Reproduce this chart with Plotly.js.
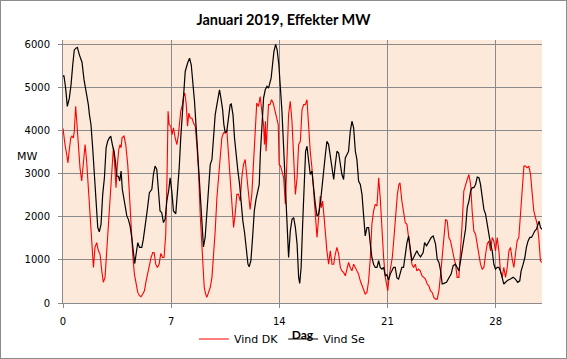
<!DOCTYPE html>
<html>
<head>
<meta charset="utf-8">
<script src="https://cdn.plot.ly/plotly-3.0.1.min.js"></script>
<style>
html,body{margin:0;padding:0;background:#fff;}
#wrap{position:relative;width:567px;height:359px;}
#chart{width:567px;height:359px;}
#frame{position:absolute;left:0;top:0;width:567px;height:359px;box-sizing:border-box;border:1px solid #8c8c8c;pointer-events:none;}
</style>
</head>
<body>
<div id="wrap"><div id="chart"></div><div id="frame"></div></div>
<script>
// Day of month (x) and MW (y)
const dkDays = [0.0,0.06,0.13,0.24,0.32,0.41,0.5,0.58,0.67,0.73,0.82,0.89,0.95,1.04,1.1,1.21,1.32,1.43,1.53,1.64,1.75,1.86,1.97,2.07,2.18,2.29,2.4,2.51,2.61,2.72,2.83,2.94,3.05,3.15,3.26,3.33,3.43,3.52,3.61,3.69,3.76,3.82,3.95,4.06,4.19,4.3,4.4,4.51,4.62,4.73,4.84,4.95,5.05,5.16,5.27,5.38,5.49,5.59,5.7,5.81,5.9,6.0,6.11,6.22,6.33,6.44,6.54,6.65,6.74,6.8,6.87,6.97,7.06,7.15,7.26,7.37,7.47,7.54,7.62,7.73,7.8,7.88,7.97,8.06,8.14,8.23,8.34,8.45,8.56,8.66,8.77,8.88,8.97,9.05,9.14,9.23,9.31,9.42,9.53,9.64,9.74,9.85,9.96,10.06,10.17,10.28,10.39,10.5,10.6,10.71,10.82,10.93,11.04,11.14,11.25,11.36,11.47,11.57,11.68,11.79,11.9,12.0,12.11,12.22,12.33,12.43,12.54,12.65,12.76,12.87,12.98,13.04,13.1,13.14,13.23,13.3,13.39,13.5,13.6,13.71,13.82,13.93,13.99,14.08,14.17,14.28,14.39,14.5,14.6,14.71,14.82,14.93,15.04,15.15,15.25,15.36,15.47,15.58,15.68,15.79,15.9,16.0,16.11,16.22,16.33,16.44,16.54,16.65,16.72,16.8,16.9,16.99,17.08,17.19,17.3,17.41,17.52,17.62,17.73,17.84,17.95,18.05,18.16,18.27,18.38,18.48,18.59,18.7,18.81,18.92,19.02,19.13,19.24,19.35,19.45,19.56,19.67,19.78,19.89,19.99,20.1,20.21,20.32,20.43,20.53,20.64,20.75,20.86,20.96,21.02,21.1,21.2,21.31,21.42,21.53,21.64,21.74,21.81,21.93,22.04,22.15,22.26,22.37,22.47,22.58,22.69,22.8,22.9,23.01,23.12,23.24,23.35,23.46,23.57,23.68,23.78,23.89,24.0,24.11,24.22,24.33,24.44,24.54,24.65,24.76,24.87,24.97,25.08,25.19,25.3,25.4,25.51,25.62,25.73,25.83,25.94,26.05,26.16,26.27,26.38,26.48,26.59,26.7,26.81,26.92,27.02,27.13,27.24,27.35,27.45,27.56,27.67,27.78,27.88,27.99,28.1,28.21,28.31,28.42,28.53,28.64,28.75,28.86,28.96,29.07,29.18,29.28,29.39,29.5,29.61,29.72,29.83,29.93,30.04,30.15,30.26,30.37,30.47,30.58,30.69,30.79,30.9,31.0];
const dkMW = [4050,3830,3675,3445,3250,3560,3830,3870,3830,3980,4560,4215,3830,3520,3135,2830,3365,3675,3290,2675,2055,1520,825,1290,1400,1210,1130,745,480,595,1210,1825,2520,3135,3600,3290,2675,3210,3560,3675,3600,3830,3870,3675,3210,2520,1825,1130,670,400,245,170,145,210,285,515,745,865,1055,1170,1170,900,825,900,1150,1055,1055,1595,3060,4445,4140,4100,3905,4060,3830,3675,3905,4100,4445,4600,4790,4870,4640,4100,4405,4290,4290,4175,4100,3675,3060,2055,1365,745,360,210,130,245,360,595,1055,1670,2440,2905,3290,3830,3945,3945,4020,3445,2830,2135,1750,2055,2520,2520,2365,2905,3210,3330,2980,2520,2170,2520,3210,3905,4640,4560,4790,4445,4140,3675,4215,3520,4290,4600,4600,4715,4640,4485,4330,4140,3210,3175,3060,2905,2290,3445,4370,4680,4215,3365,2520,2905,3675,3750,4485,4600,4600,4715,4060,3520,3135,2675,2055,1520,2055,2480,2210,2365,1980,1520,1210,900,1210,900,900,1130,1290,1130,825,745,710,630,785,940,825,745,900,825,745,670,515,400,285,210,245,515,1055,1825,2135,2290,2250,2905,2440,1670,1055,595,325,285,595,825,1055,1520,2055,2520,2750,2790,2365,2135,1865,1825,1520,1130,900,825,900,745,785,745,630,595,555,440,400,285,245,130,90,90,285,670,1055,1365,1940,1900,1520,1440,1210,1055,900,595,595,1130,1825,2595,2750,2865,2980,2750,2135,1670,1595,1365,1210,900,785,825,1130,1365,1440,1210,1520,1440,1210,1520,1210,745,595,825,595,825,1210,1290,1015,825,1130,1440,1520,2135,2750,3175,3175,3135,3175,2980,2520,2135,1980,1825,1520,980,940];

const seDays = [0.0,0.06,0.17,0.28,0.41,0.52,0.63,0.73,0.84,0.93,1.06,1.23,1.36,1.49,1.64,1.71,1.81,1.92,2.03,2.14,2.25,2.35,2.46,2.57,2.68,2.79,2.89,3.0,3.09,3.2,3.3,3.39,3.48,3.59,3.67,3.76,3.84,3.97,4.13,4.23,4.34,4.45,4.56,4.64,4.73,4.84,4.95,5.1,5.2,5.33,5.46,5.59,5.75,5.85,5.96,6.07,6.18,6.28,6.39,6.5,6.61,6.72,6.85,6.93,7.04,7.15,7.3,7.41,7.52,7.62,7.75,7.91,8.06,8.19,8.3,8.4,8.51,8.62,8.77,8.88,8.99,9.09,9.2,9.31,9.42,9.53,9.64,9.74,9.85,9.96,10.06,10.13,10.22,10.33,10.41,10.5,10.6,10.71,10.82,10.89,11.0,11.1,11.21,11.32,11.43,11.53,11.64,11.75,11.86,11.97,12.05,12.16,12.27,12.38,12.49,12.59,12.7,12.77,12.87,12.98,13.09,13.2,13.3,13.41,13.47,13.56,13.65,13.76,13.86,13.97,14.06,14.17,14.28,14.39,14.5,14.6,14.71,14.82,14.93,15.04,15.15,15.25,15.32,15.41,15.51,15.62,15.7,15.79,15.9,16.0,16.11,16.22,16.33,16.44,16.54,16.65,16.76,16.87,16.98,17.08,17.19,17.3,17.41,17.52,17.62,17.73,17.84,17.95,18.05,18.16,18.27,18.38,18.48,18.59,18.7,18.81,18.92,19.02,19.13,19.24,19.35,19.45,19.56,19.67,19.78,19.89,19.99,20.1,20.21,20.32,20.43,20.53,20.64,20.75,20.86,20.96,21.07,21.18,21.29,21.39,21.5,21.61,21.72,21.83,21.93,22.04,22.15,22.26,22.37,22.47,22.58,22.69,22.8,22.9,23.01,23.14,23.31,23.4,23.53,23.68,23.83,23.96,24.11,24.22,24.33,24.44,24.54,24.65,24.82,24.97,25.12,25.25,25.4,25.51,25.62,25.73,25.83,25.94,26.05,26.16,26.27,26.38,26.48,26.59,26.7,26.81,26.92,27.02,27.13,27.24,27.35,27.45,27.56,27.67,27.78,27.88,27.99,28.1,28.21,28.31,28.42,28.53,28.64,28.79,28.96,29.13,29.28,29.43,29.56,29.65,29.78,29.89,29.99,30.1,30.21,30.32,30.43,30.53,30.64,30.73,30.81,30.9,31.0];
const seMW = [5250,5277,4985,4560,4750,5060,5520,5870,5910,5930,5755,5585,5180,4945,4600,4370,4140,3600,2905,2290,1750,1650,1825,2520,2905,3600,3750,3830,3870,3660,3520,3290,2940,2940,2830,3060,2635,2365,2020,1940,1790,1520,1130,915,1130,1400,1290,1290,1480,1900,2170,2560,2635,2980,3175,3100,2675,2135,2095,1865,1940,2365,2635,2905,2595,2135,2070,2520,3135,3830,4600,5370,5560,5680,5525,5140,4680,4060,3210,2520,1825,1300,1520,2135,2830,3210,3330,3905,4370,4600,4870,4945,4750,4485,4140,3945,3980,4330,4600,4615,4370,3830,3405,3060,2750,2290,1900,1635,1290,900,840,980,1520,2135,2405,2595,2750,3445,4215,4750,4945,5025,4985,5180,5215,5525,5830,6000,5870,5525,5060,4445,3600,2675,1825,1055,1670,1940,1980,1750,1365,595,455,825,1825,2905,3520,3635,3290,2980,3060,2595,2290,2020,2055,2290,2750,3060,3445,3750,3675,3365,3060,2865,3210,3520,3480,3250,2980,2865,3365,3445,3520,3980,4215,4060,3520,3330,2830,2750,2520,2055,1555,1750,1750,1365,1055,900,825,825,980,825,785,825,630,655,530,670,745,825,825,580,555,710,825,825,1130,1400,1555,1210,980,1055,1130,1210,1130,1070,1170,1400,1325,1440,1520,1555,1365,1015,940,745,440,455,480,580,670,865,900,825,745,980,1210,1480,1710,2210,2365,2595,2675,2675,2750,2920,2905,2750,2440,2170,2055,1825,1520,1365,1210,900,785,825,825,745,595,440,480,530,555,595,555,480,515,745,900,1055,1290,1440,1520,1520,1595,1670,1710,1790,1900,1750,1710];

const dayTicks = [0, 7, 14, 21, 28];
const mwTicks = [0, 1000, 2000, 3000, 4000, 5000, 6000];

const data = [
  {x: dkDays, y: dkMW, name: 'Vind DK', type: 'scatter', mode: 'lines',
   line: {color: '#ff0000', width: 1.1}},
  {x: seDays, y: seMW, name: 'Vind Se', type: 'scatter', mode: 'lines',
   line: {color: '#000000', width: 1.2}}
];

const layout = {
  width: 567, height: 359,
  margin: {l: 63, r: 25, t: 40, b: 56, pad: 0, autoexpand: false},
  paper_bgcolor: '#ffffff',
  plot_bgcolor: '#fce9da',
  showlegend: true,
  title: {text: 'Januari 2019, Effekter MW', x: 0.5, xref: 'container', xanchor: 'center',
          y: 1 - 20/359, yref: 'container', yanchor: 'middle',
          font: {family: 'Lato, "DejaVu Sans", sans-serif', size: 14.5, color: '#000', weight: 'bold'}},
  xaxis: {
    range: [0, 31], tickvals: dayTicks, ticktext: dayTicks.map(String),
    showgrid: true, gridcolor: '#8a8a8a', gridwidth: 1,
    showline: true, linecolor: '#8a8a8a', linewidth: 1,
    ticks: 'outside', ticklen: 4, tickcolor: '#8a8a8a',
    ticklabelstandoff: 5,
    zeroline: false, automargin: false,
    tickfont: {family: '"DejaVu Sans", Verdana, sans-serif', size: 10, color: '#000'},
    title: {text: '<b>Dag</b>', font: {family: 'Lato, sans-serif', size: 12, color: '#000'}, standoff: 4}
  },
  yaxis: {
    range: [0, 6100], tickvals: mwTicks,
    showgrid: true, gridcolor: '#8a8a8a', gridwidth: 1,
    showline: true, linecolor: '#8a8a8a', linewidth: 1,
    ticks: 'outside', ticklen: 4, tickcolor: '#8a8a8a',
    ticklabelstandoff: 6,
    zeroline: false, automargin: false,
    tickfont: {family: '"DejaVu Sans", Verdana, sans-serif', size: 10, color: '#000'}
  },
  legend: {
    orientation: 'h', x: 0.458, xanchor: 'center', y: -36/263, yanchor: 'middle',
    bgcolor: 'rgba(0,0,0,0)', font: {family: '"DejaVu Sans", Verdana, sans-serif', size: 11, color: '#000'},
    itemwidth: 30, traceorder: 'normal'
  },
  annotations: [
    {text: 'MW', xref: 'paper', yref: 'paper', x: (27 - 63) / 479, y: (303 - 156) / 263,
     xanchor: 'center', yanchor: 'middle', showarrow: false,
     font: {family: '"DejaVu Sans", Verdana, sans-serif', size: 11, color: '#000'}}
  ]
};

Plotly.newPlot('chart', data, layout, {staticPlot: true, displayModeBar: false});
</script>
</body>
</html>
